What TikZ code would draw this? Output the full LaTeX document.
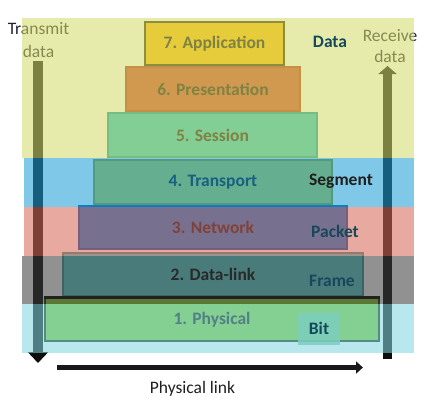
\documentclass[tikz,border=0pt]{standalone}
\usepackage{fontspec}
\setmainfont{Carlito}
\usetikzlibrary{arrows.meta}
\definecolor{txtdark}{RGB}{30,34,48}
\definecolor{bandY}{RGB}{211,218,104}
\definecolor{bandB}{RGB}{28,158,214}
\definecolor{bandP}{RGB}{214,104,86}
\definecolor{bandG}{RGB}{60,60,60}
\definecolor{bandL}{RGB}{130,214,225}
\definecolor{appF}{RGB}{255,184,0}
\definecolor{appD}{RGB}{50,42,10}
\definecolor{preF}{RGB}{207,70,50}
\definecolor{preD}{RGB}{180,50,25}
\definecolor{sesF}{RGB}{27,191,209}
\definecolor{sesD}{RGB}{0,150,165}
\definecolor{traF}{RGB}{198,195,55}
\definecolor{traD}{RGB}{150,150,10}
\definecolor{netF}{RGB}{0,123,218}
\definecolor{netD}{RGB}{0,84,164}
\definecolor{dlF}{RGB}{93,205,205}
\definecolor{dlD}{RGB}{60,150,150}
\definecolor{phyF}{RGB}{135,198,44}
\definecolor{phyD}{RGB}{25,45,15}
\definecolor{bitF}{RGB}{124,206,190}
\definecolor{lblC}{RGB}{22,72,92}
\begin{document}
\begin{tikzpicture}[x=1pt,y=-1pt,
  sidetxt/.style={text=txtdark, inner sep=0pt, align=center, font=\fontsize{17.5}{23}\selectfont},
  layerbox/.style={draw, line width=1.2pt, inner sep=0pt, text=black!93, font=\fontsize{17.5}{20}\selectfont\bfseries},
  lbl/.style={inner sep=0pt, text=lblC, font=\fontsize{17.5}{20}\selectfont\bfseries},
  band/.style={fill opacity=0.565}]
\useasboundingbox (0,0) rectangle (425,408);
% side texts and arrows (under the bands)
\node[sidetxt] (tx) at (38.5,40) {Transmit\\data};
\node[sidetxt, font=\fontsize{17.5}{21}\selectfont] (rx) at (390,46) {Receive\\data};
\coordinate (txA) at (38,61);
\coordinate (txB) at (38,363);
\coordinate (rxA) at (387.5,359);
\coordinate (rxB) at (387.5,66);
\draw[line width=10pt, black!95, -{Triangle[width=20pt,length=11pt]}] (txA) -- (txB);
\draw[line width=9pt, black!95, -{Triangle[width=18pt,length=8pt]}] (rxA) -- (rxB);
% layer boxes
\node[layerbox, fill=appF, draw=appD, minimum width=139pt, minimum height=43pt] (app) at (214.5,43.5) {7. Application};
\node[layerbox, fill=preF, draw=preD, minimum width=174pt, minimum height=44pt] (pre) at (213,89) {6. Presentation};
\node[layerbox, fill=sesF, draw=sesD, minimum width=209pt, minimum height=44pt] (ses) at (212.5,135) {5. Session};
\node[layerbox, fill=traF, draw=traD, minimum width=238pt, minimum height=44pt] (tra) at (213,182) {4. Transport};
\node[layerbox, fill=netF, draw=netD, minimum width=268pt, minimum height=43pt] (net) at (213,227.5) {3. Network};
\node[layerbox, fill=dlF, draw=dlD, minimum width=300pt, minimum height=43pt] (dl) at (213,274.5) {2. Data-link};
\node[layerbox, fill=phyF, draw=phyD, minimum width=334pt, minimum height=43pt] (phy) at (212,319.5) {1. Physical};
\draw[line width=2.4pt, black] (phy.north west) -- (phy.north east);
% translucent bands
\fill[band, bandY] (22,18) rectangle (414,158.3);
\fill[band, bandB] (24,158.3) rectangle (414,207.3);
\fill[band, bandP] (24,207.3) rectangle (414,256);
\fill[band, bandG] (22,256) rectangle (414,304);
\fill[band, bandL] (22,304) rectangle (414,353);
% bit box and labels
\node[fill=bitF, fill opacity=0.85, text opacity=1, inner sep=0pt, minimum width=42pt, minimum height=32pt] (bitbox) at (319,328.5) {};
\node[lbl] (data) at (330,42) {Data};
\node[lbl, text=black!88] (seg) at (341,181) {Segment};
\node[lbl] (pkt) at (335,231) {Packet};
\node[lbl] (frm) at (332,281) {Frame};
\node[lbl] (bit) at (319,328) {Bit};
% physical link
\coordinate (plA) at (57,367.5);
\coordinate (plB) at (363,367.5);
\draw[line width=5pt, black!90, -{Triangle[width=12pt,length=7pt]}] (plA) -- (plB);
\node[sidetxt, text=black!88] (pl) at (192.5,389) {Physical link};
\end{tikzpicture}
\end{document}
